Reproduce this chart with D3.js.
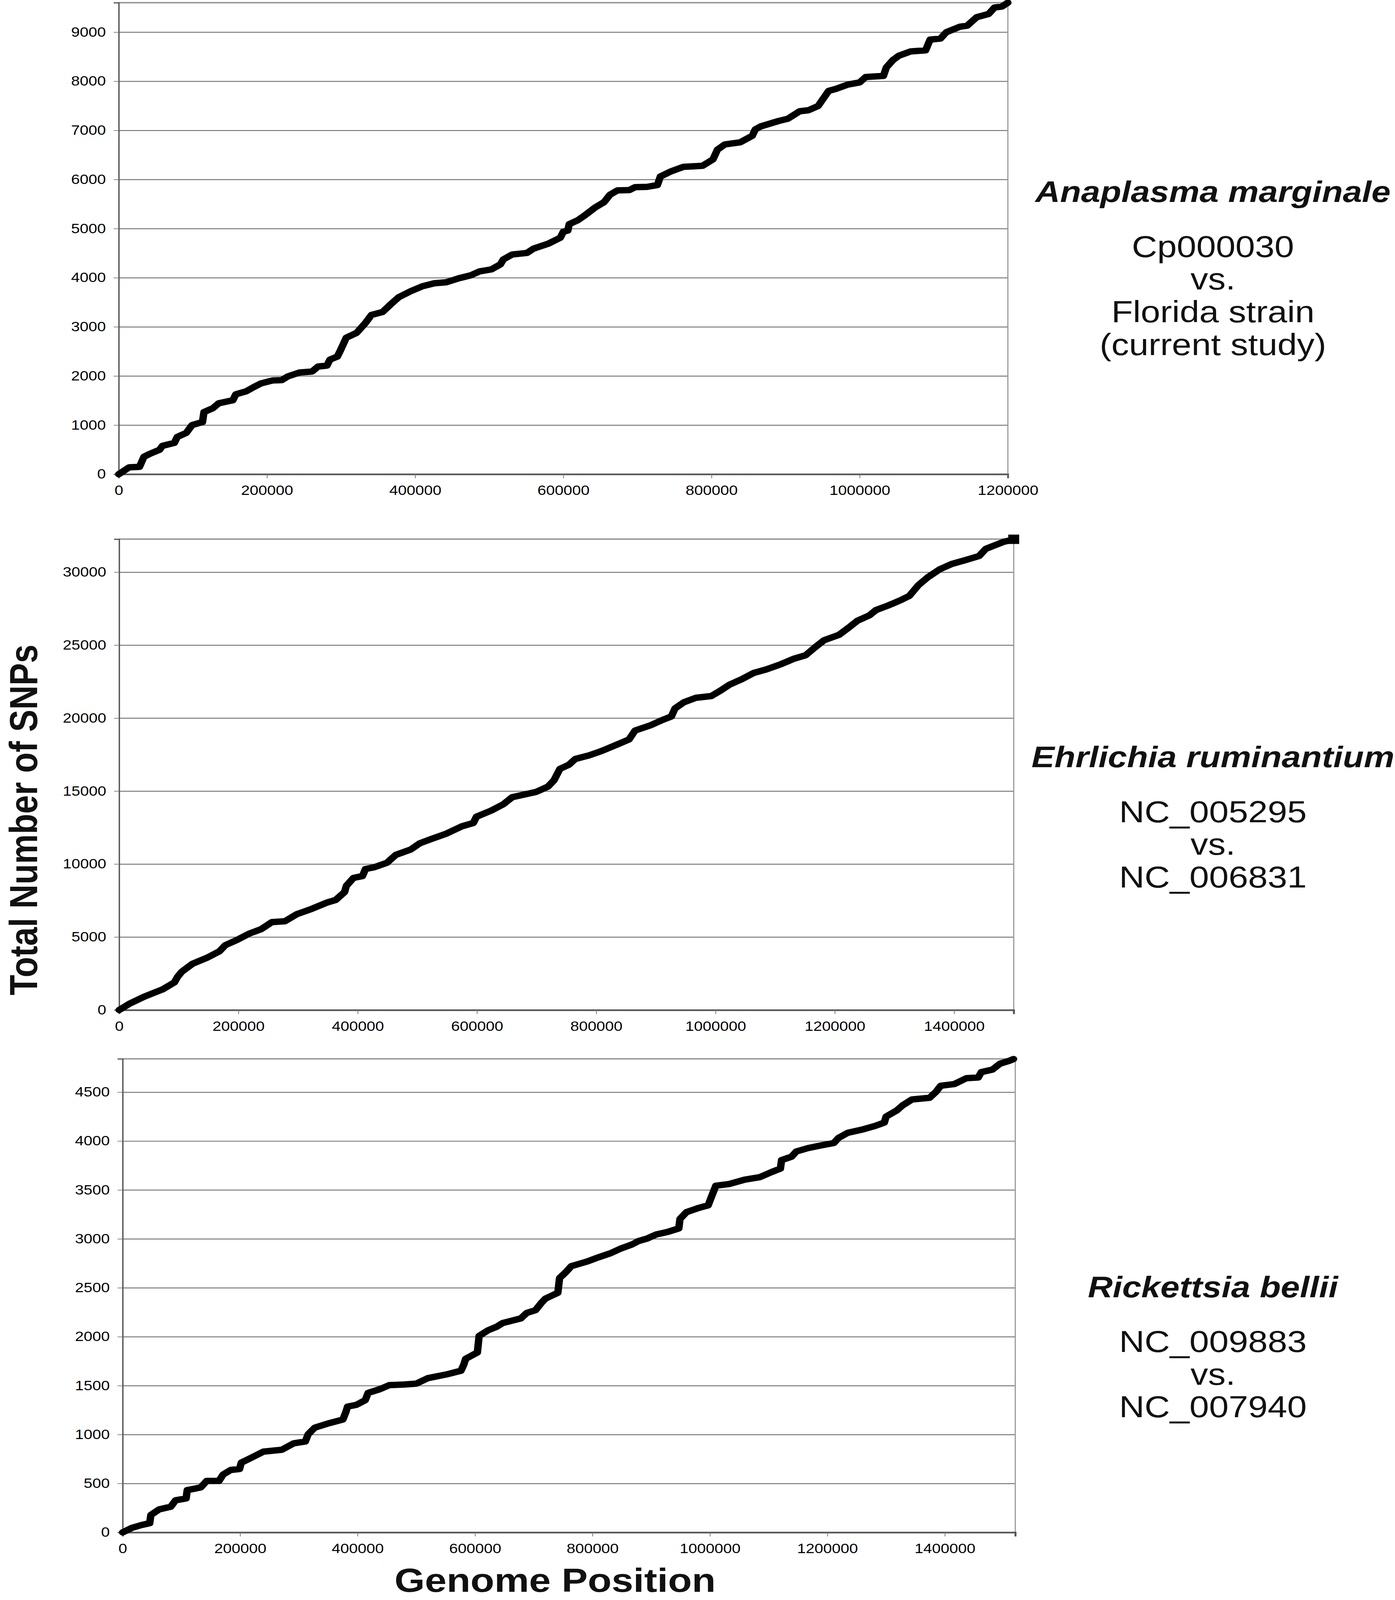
<!DOCTYPE html>
<html>
<head>
<meta charset="utf-8">
<script src="https://cdn.jsdelivr.net/npm/d3@7"></script>
<style>
  html, body { margin: 0; padding: 0; background: #ffffff; overflow: hidden; width: 100%; height: 100%; }
  svg { display: block; width: 100vw; height: 100vh; }
</style>
</head>
<body>
<svg id="chart" viewBox="0 0 3571 4781" preserveAspectRatio="none"></svg>
<script>
// ---------------- DATA ----------------
// Panel 1: Anaplasma marginale (Cp000030 vs. Florida strain)
const pos1 = [0,14000,28000,34000,42000,55000,59000,75000,79000,91000,99000,113000,115000,127000,135000,154000,158000,172000,184000,192000,208000,220000,228000,244000,261000,269000,281000,285000,295000,299000,307000,321000,333000,341000,356000,366000,378000,394000,410000,426000,442000,459000,475000,487000,503000,515000,519000,531000,551000,560000,580000,596000,600000,606000,608000,620000,630000,643000,655000,663000,673000,689000,697000,713000,727000,731000,746000,762000,788000,802000,808000,818000,839000,855000,859000,867000,891000,903000,919000,931000,944000,952000,958000,968000,984000,1000000,1008000,1032000,1036000,1045000,1053000,1069000,1089000,1095000,1109000,1117000,1135000,1145000,1158000,1174000,1182000,1192000,1200000];
const snp1 = [0,140,150,355,415,497,577,638,759,840,1001,1062,1264,1344,1445,1506,1627,1688,1788,1849,1910,1915,1990,2071,2091,2192,2212,2333,2394,2515,2778,2878,3080,3242,3302,3444,3605,3726,3827,3888,3908,3989,4049,4130,4170,4271,4372,4473,4505,4594,4695,4816,4937,4960,5090,5175,5281,5430,5539,5691,5778,5785,5844,5850,5887,6061,6170,6257,6279,6410,6606,6714,6758,6889,7019,7084,7193,7237,7389,7411,7498,7672,7803,7846,7933,7977,8086,8108,8282,8434,8521,8608,8630,8848,8869,9000,9109,9131,9305,9370,9501,9522,9600];

// Panel 2: Ehrlichia ruminantium (NC_005295 vs. NC_006831)
const pos2 = [0,17500,42600,72700,92700,97700,105000,123000,148000,168000,178000,198000,218000,238000,256000,278000,298000,323000,348000,363000,378000,381000,393000,408000,413000,428000,449000,464000,489000,504000,524000,549000,574000,594000,599000,624000,644000,659000,699000,719000,729000,739000,754000,765000,788000,809000,834000,855000,865000,891000,911000,926000,932000,947000,967000,993000,1008000,1024000,1044000,1064000,1085000,1110000,1131000,1151000,1167000,1182000,1207000,1223000,1238000,1258000,1269000,1289000,1310000,1325000,1340000,1356000,1376000,1396000,1417000,1442000,1453000,1468000,1483000,1496000,1500000];
const snp2 = [0,437,922,1408,1893,2257,2621,3167,3592,4017,4442,4806,5231,5534,6019,6080,6566,6930,7354,7536,8083,8507,9053,9175,9660,9782,10085,10631,10995,11420,11723,12087,12573,12816,13240,13665,14090,14575,14939,15303,15728,16517,16800,17200,17443,17746,18171,18535,19143,19507,19871,20114,20661,21086,21390,21511,21875,22300,22665,23090,23333,23697,24061,24304,24851,25336,25701,26187,26672,27036,27401,27705,28069,28373,29101,29648,30194,30559,30801,31105,31591,31834,32076,32198,32250];

// Panel 3: Rickettsia bellii (NC_009883 vs. NC_007940)
const pos3 = [0,16000,32000,46000,48000,62000,82000,90000,108000,110000,133000,143000,164000,171000,184000,199000,202000,215000,240000,271000,291000,311000,316000,327000,352000,375000,380000,383000,398000,413000,418000,438000,454000,479000,500000,520000,551000,576000,581000,584000,604000,607000,622000,637000,647000,678000,688000,703000,713000,720000,741000,744000,754000,764000,790000,810000,831000,847000,867000,878000,893000,909000,929000,947000,949000,960000,981000,997000,1002000,1010000,1033000,1059000,1085000,1105000,1120000,1122000,1139000,1147000,1167000,1188000,1211000,1219000,1235000,1261000,1281000,1297000,1300000,1318000,1328000,1344000,1374000,1385000,1393000,1416000,1437000,1457000,1462000,1481000,1494000,1509000,1517000];
const snp3 = [0,47,75,94,178,235,263,328,347,432,460,526,526,591,638,648,713,751,826,845,910,929,1004,1070,1117,1154,1229,1286,1304,1351,1426,1464,1505,1511,1520,1577,1614,1652,1717,1774,1839,2008,2065,2102,2140,2187,2243,2271,2346,2390,2449,2600,2656,2721,2767,2811,2854,2898,2942,2977,3003,3046,3073,3107,3203,3273,3317,3343,3421,3543,3561,3605,3631,3683,3718,3805,3840,3893,3928,3954,3980,4032,4085,4120,4154,4189,4250,4312,4364,4425,4442,4503,4565,4582,4643,4650,4704,4730,4791,4818,4838];

// Axis ticks
const xTicks1 = [0,200000,400000,600000,800000,1000000,1200000];
const xTicks2 = [0,200000,400000,600000,800000,1000000,1200000,1400000];
const xTicks3 = [0,200000,400000,600000,800000,1000000,1200000,1400000];
const yTicks1 = [0,1000,2000,3000,4000,5000,6000,7000,8000,9000];
const yTicks2 = [0,5000,10000,15000,20000,25000,30000];
const yTicks3 = [0,500,1000,1500,2000,2500,3000,3500,4000,4500];

// Axis ranges
const xMax = [1200000, 1500000, 1520000];
const yMax = [9600, 32260, 4840];

// Labels
const species = ["Anaplasma marginale", "Ehrlichia ruminantium", "Rickettsia bellii"];
const comparisons = [
  ["Cp000030", "vs.", "Florida strain", "(current study)"],
  ["NC_005295", "vs.", "NC_006831"],
  ["NC_009883", "vs.", "NC_007940"]
];
const yTitle = "Total Number of SNPs";
const xTitle = "Genome Position";

// ---------------- LAYOUT ----------------
const FONT = "'Liberation Sans', Arial, Helvetica, sans-serif";
const layout = [
  { left: 304, right: 2580, top: 8,    bottom: 1417, labelY: 604,  endMarker: false },
  { left: 305, right: 2595, top: 1611, bottom: 3018, labelY: 2293, endMarker: true },
  { left: 314, right: 2599, top: 3164, bottom: 4579, labelY: 3876, endMarker: false }
];
const panels = [
  { pos: pos1, snp: snp1, xt: xTicks1, yt: yTicks1 },
  { pos: pos2, snp: snp2, xt: xTicks2, yt: yTicks2 },
  { pos: pos3, snp: snp3, xt: xTicks3, yt: yTicks3 }
];

const svg = d3.select("#chart");
svg.append("rect").attr("width", 3571).attr("height", 4781).attr("fill", "#fff");

panels.forEach((p, i) => {
  const L = layout[i];
  const x = d3.scaleLinear().domain([0, xMax[i]]).range([L.left, L.right]);
  const y = d3.scaleLinear().domain([0, yMax[i]]).range([L.bottom, L.top]);
  const g = svg.append("g");

  // gridlines
  const grid = g.append("g").attr("transform", `translate(${L.left},0)`)
    .call(d3.axisLeft(y).tickValues(p.yt.filter(v => v > 0)).tickSize(-(L.right - L.left)).tickFormat(""));
  grid.select(".domain").remove();
  grid.selectAll("line").attr("stroke", "#6e6e6e").attr("stroke-width", 2.6);

  // top & right border
  g.append("line").attr("x1", L.left).attr("x2", L.right).attr("y1", L.top).attr("y2", L.top)
    .attr("stroke", "#999").attr("stroke-width", 4.5);
  g.append("line").attr("x1", L.right).attr("x2", L.right).attr("y1", L.top).attr("y2", L.bottom)
    .attr("stroke", "#999").attr("stroke-width", 3);

  // y axis
  const ya = g.append("g").attr("transform", `translate(${L.left},0)`)
    .call(d3.axisLeft(y).tickValues(p.yt).tickSize(13).tickPadding(20).tickFormat(d3.format("d")));
  ya.select(".domain").attr("stroke", "#555").attr("stroke-width", 3.5);
  ya.selectAll(".tick line").attr("stroke", "#777").attr("stroke-width", 2);
  ya.selectAll("text").attr("font-family", FONT).attr("font-size", 40).attr("fill", "#000");

  // x axis
  const xa = g.append("g").attr("transform", `translate(0,${L.bottom})`)
    .call(d3.axisBottom(x).tickValues(p.xt).tickSize(12).tickPadding(22).tickFormat(d3.format("d")));
  xa.select(".domain").attr("stroke", "#555").attr("stroke-width", 5);
  xa.selectAll(".tick line").attr("stroke", "#777").attr("stroke-width", 2);
  xa.selectAll("text").attr("font-family", FONT).attr("font-size", 40).attr("fill", "#000");

  // data line
  const data = p.pos.map((v, k) => [v, p.snp[k]]);
  g.append("path").datum(data)
    .attr("d", d3.line().x(d => x(d[0])).y(d => y(d[1])))
    .attr("fill", "none").attr("stroke", "#000").attr("stroke-width", 19)
    .attr("stroke-linejoin", "round").attr("stroke-linecap", "round");

  if (L.endMarker) {
    const last = data[data.length - 1];
    g.append("rect").attr("x", x(last[0]) - 14).attr("y", y(last[1]) - 14)
      .attr("width", 28).attr("height", 28).attr("fill", "#000");
  }

  // right-side labels
  const cx = 3105;
  svg.append("text").attr("x", cx).attr("y", L.labelY)
    .attr("text-anchor", "middle").attr("font-family", FONT)
    .attr("font-size", 88).attr("font-weight", "bold").attr("font-style", "italic")
    .attr("fill", "#111").text(species[i]);
  comparisons[i].forEach((t, k) => {
    svg.append("text").attr("x", cx).attr("y", L.labelY + 164 + k * 97.5)
      .attr("text-anchor", "middle").attr("font-family", FONT)
      .attr("font-size", 90).attr("fill", "#111").text(t);
  });
});

// axis titles
svg.append("text").attr("transform", "translate(95,2450) rotate(-90)")
  .attr("text-anchor", "middle").attr("font-family", FONT)
  .attr("font-size", 100).attr("font-weight", "bold").attr("fill", "#111").text(yTitle);
svg.append("text").attr("x", 1421).attr("y", 4757)
  .attr("text-anchor", "middle").attr("font-family", FONT)
  .attr("font-size", 100).attr("font-weight", "bold").attr("fill", "#111").text(xTitle);
</script>
</body>
</html>
